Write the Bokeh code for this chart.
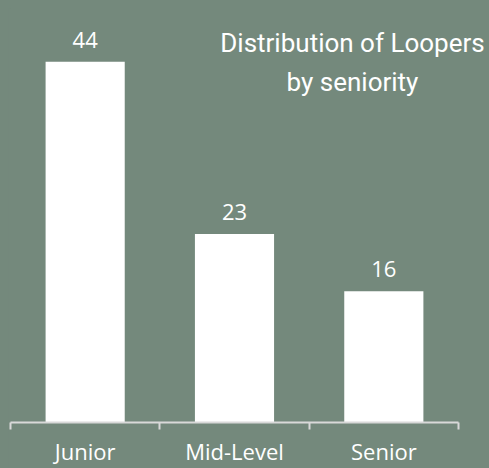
from bokeh.plotting import figure
from bokeh.models import Range1d, FixedTicker, ColumnDataSource, LabelSet, Label
from bokeh.core.properties import value
from bokeh.embed import file_html
from bokeh.resources import INLINE
import numpy as np

categories = ["Junior", "Mid-Level", "Senior"]
counts = [44, 23, 16]
title_lines = ["Distribution of Loopers", "by seniority"]

BG = "#74897c"

xpos = np.arange(len(categories)) + 0.5
src = ColumnDataSource(dict(x=xpos, top=counts, label=[str(c) for c in counts]))

FIG_W, FIG_H, BOTTOM = 479, 460, 43
p = figure(width=FIG_W, height=FIG_H, output_backend="svg", toolbar_location=None,
           x_range=Range1d(0, (FIG_W - 2) / 149.33), y_range=Range1d(0, (FIG_H - BOTTOM) / 8.26),
           min_border_left=2, min_border_right=0, min_border_top=0, min_border_bottom=BOTTOM)
p.background_fill_color = BG
p.border_fill_color = BG
p.outline_line_color = None
p.grid.visible = False
p.yaxis.visible = False

p.vbar(x="x", top="top", width=0.53, bottom=0, source=src, fill_color="white", line_color=None)

labels = LabelSet(x="x", y="top", text="label", source=src, y_offset=14,
                  text_align="center", text_baseline="alphabetic",
                  text_color="white", text_font=value("Open Sans"), text_font_size="22px")
p.add_layout(labels)

ax = p.xaxis[0]
ax.bounds = (0, len(categories))
ax.ticker = FixedTicker(ticks=list(xpos), minor_ticks=list(range(len(categories) + 1)))
ax.major_label_overrides = {float(x): c for x, c in zip(xpos, categories)}
ax.major_tick_line_color = None
ax.major_tick_out = 0
ax.major_tick_in = 0
ax.minor_tick_line_color = "#d9d9d9"
ax.minor_tick_line_width = 2
ax.minor_tick_out = 7
ax.minor_tick_in = 0
ax.axis_line_color = "#d9d9d9"
ax.axis_line_width = 2
ax.major_label_text_color = "white"
ax.major_label_text_font = "Open Sans"
ax.major_label_text_font_size = "22px"
ax.major_label_standoff = 6

for txt, yv in zip(title_lines, [46.3, 41.5]):
    p.add_layout(Label(x=2.29, y=yv, text=txt, text_align="center",
                       text_baseline="alphabetic", text_color="white",
                       text_font="Roboto", text_font_size="26px"))

html = file_html(p, INLINE)
html = html.replace("</head>", "<style>html{margin:0;padding:0;background:%s;} body{background:%s;margin:8px;width:%dpx;}</style></head>" % (BG, BG, FIG_W), 1)
open("out.html", "w").write(html)
